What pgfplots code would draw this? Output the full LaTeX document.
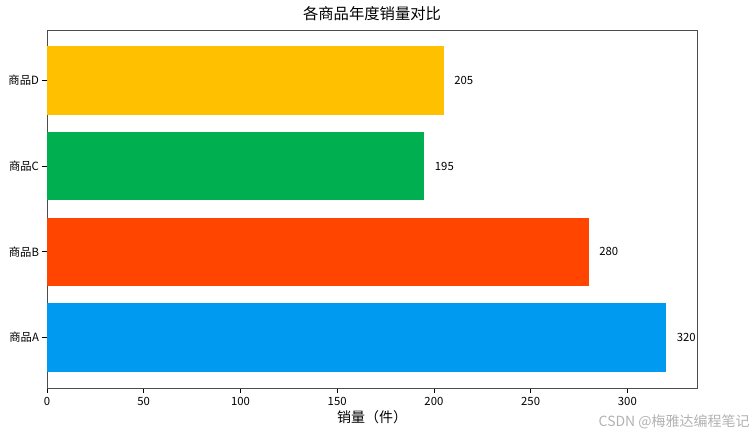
\documentclass[border=0pt]{standalone}
\usepackage{pgfplots}
\pgfplotsset{compat=1.18}
\usepackage{fontspec}
\setmainfont{Noto Sans CJK SC}
\definecolor{cA}{HTML}{009BF0}
\definecolor{cB}{HTML}{FF4500}
\definecolor{cC}{HTML}{00B050}
\definecolor{cD}{HTML}{FFC000}
\begin{document}
\begin{tikzpicture}[x=0.75pt,y=0.75pt]
\path[use as bounding box] (0,0) rectangle (751,436);
\begin{axis}[
  at={(35.25pt,36pt)}, anchor=south west,
  scale only axis, width=487.5pt, height=268.5pt,
  xbar, bar width=0.8, bar shift=0pt,
  xmin=0, xmax=336, ymin=-0.59, ymax=3.59,
  xtick={0,50,100,150,200,250,300},
  ytick={0,1,2,3}, yticklabels={商品A,商品B,商品C,商品D},
  tick align=outside, tick pos=left,
  major tick length=3.5pt,
  tick style={black, line width=0.6pt},
  axis line style={black!70, line width=0.6pt},
  /pgf/number format/assume math mode=true,
  ticklabel style={font=\fontsize{8.5}{10}\selectfont},
  yticklabel style={xshift=1pt},
  title={各商品年度销量对比},
  title style={font=\fontsize{11.5}{13}\selectfont, yshift=-3pt},
  xlabel={销量（件）},
  xlabel style={font=\fontsize{10.5}{12}\selectfont, yshift=3pt},
  nodes near coords, point meta=x,
  every node near coord/.append style={anchor=west, xshift=4.5pt, font=\fontsize{8.5}{10}\selectfont, black},
]
\addplot[fill=cA, draw=none] coordinates {(320,0)};
\addplot[fill=cB, draw=none] coordinates {(280,1)};
\addplot[fill=cC, draw=none] coordinates {(195,2)};
\addplot[fill=cD, draw=none] coordinates {(205,3)};
\end{axis}
\node[anchor=south east, text=black!30, font=\fontsize{10.5}{12}\selectfont, inner sep=0pt] at (750,7) {CSDN @梅雅达编程笔记};
\end{tikzpicture}
\end{document}
